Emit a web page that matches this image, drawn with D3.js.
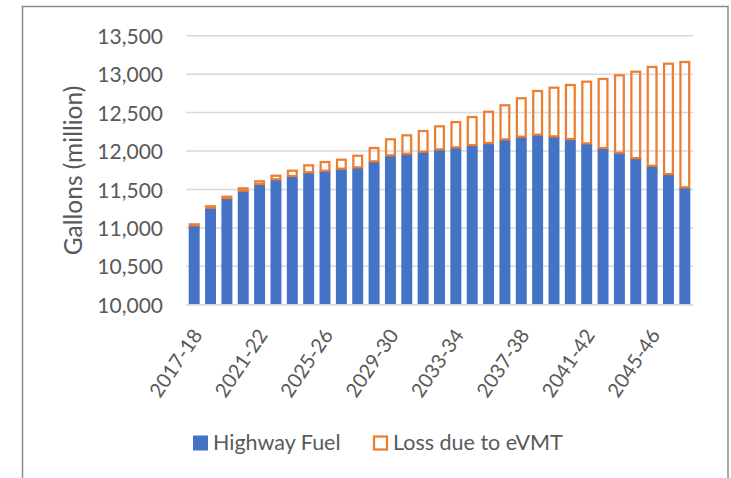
<!DOCTYPE html>
<html>
<head>
<meta charset="utf-8">
<script src="https://cdn.jsdelivr.net/npm/d3@7"></script>
<style>
  body { margin: 0; background: #fff; }
  svg text { font-family: Lato, "Open Sans", sans-serif; fill: #595959; }
</style>
</head>
<body>
<svg id="svg" width="731" height="478"></svg>
<script>
// Data =============================================================
var years = ["2017-18", "2018-19", "2019-20", "2020-21", "2021-22", "2022-23", "2023-24",
  "2024-25", "2025-26", "2026-27", "2027-28", "2028-29", "2029-30", "2030-31", "2031-32",
  "2032-33", "2033-34", "2034-35", "2035-36", "2036-37", "2037-38", "2038-39", "2039-40",
  "2040-41", "2041-42", "2042-43", "2043-44", "2044-45", "2045-46", "2046-47", "2047-48"];

// gallons (million)
var highwayFuel = [11034, 11263, 11389, 11484, 11571, 11632, 11675, 11723, 11744, 11770,
  11788, 11866, 11944, 11965, 11991, 12022, 12048, 12078, 12104, 12152, 12186, 12212,
  12191, 12156, 12100, 12039, 11978, 11909, 11809, 11701, 11528];

var lossEVMT = [13, 18, 17, 31, 35, 47, 69, 91, 113, 117, 151, 173, 208, 239, 269, 299,
  329, 364, 407, 443, 500, 569, 633, 703, 802, 898, 1007, 1123, 1284, 1435, 1630];

var yTicks = [10000, 10500, 11000, 11500, 12000, 12500, 13000, 13500];
var xTickLabels = ["2017-18", "2021-22", "2025-26", "2029-30", "2033-34", "2037-38", "2041-42", "2045-46"];
var seriesNames = ["Highway Fuel", "Loss due to eVMT"];

// Setup =============================================================
var svg = d3.select("#svg");
var blue = "#4472C4";
var orange = "#ED7D31";

// chart border
svg.append("rect")
  .attr("x", 22.5).attr("y", 6.5)
  .attr("width", 705.5).attr("height", 490)
  .attr("fill", "none")
  .attr("stroke", "#8c8c8c")
  .attr("stroke-width", 1.5);

var xScale = d3.scaleBand()
  .domain(years)
  .range([186, 693])
  .paddingInner(0.33)
  .paddingOuter(0.165);

var yScale = d3.scaleLinear()
  .domain([10000, 13500])
  .range([304.8, 35.7]);

// gridlines
svg.append("g").selectAll("line")
  .data(yTicks)
  .enter().append("line")
  .attr("x1", 186).attr("x2", 693)
  .attr("y1", function(d) { return yScale(d); })
  .attr("y2", function(d) { return yScale(d); })
  .attr("stroke", "#d9d9d9")
  .attr("stroke-width", 1.5);

// y axis labels
var yAxis = d3.axisLeft(yScale)
  .tickValues(yTicks)
  .tickSize(0)
  .tickPadding(0)
  .tickFormat(d3.format(","));

svg.append("g")
  .attr("transform", "translate(163,0)")
  .call(yAxis)
  .call(function(g) { g.select(".domain").remove(); })
  .selectAll("text")
  .attr("font-size", 21)
  .attr("font-family", null)
  .attr("dy", "0.36em");

// bars
var rows = years.map(function(y, i) {
  return { year: y, fuel: highwayFuel[i], loss: lossEVMT[i] };
});

svg.append("g").selectAll("rect")
  .data(rows)
  .enter().append("rect")
  .attr("x", function(d) { return xScale(d.year); })
  .attr("width", xScale.bandwidth())
  .attr("y", function(d) { return yScale(d.fuel); })
  .attr("height", function(d) { return yScale(10000) - yScale(d.fuel); })
  .attr("fill", blue);

svg.append("g").selectAll("rect")
  .data(rows)
  .enter().append("rect")
  .attr("x", function(d) { return xScale(d.year) + 1.1; })
  .attr("width", xScale.bandwidth() - 2.2)
  .attr("y", function(d) { return yScale(d.fuel + d.loss); })
  .attr("height", function(d) { return yScale(d.fuel) - yScale(d.fuel + d.loss); })
  .attr("fill", "none")
  .attr("stroke", orange)
  .attr("stroke-width", 2.25);

// x axis line
svg.append("line")
  .attr("x1", 186).attr("x2", 693)
  .attr("y1", yScale(10000)).attr("y2", yScale(10000))
  .attr("stroke", "#d9d9d9")
  .attr("stroke-width", 1.5);

// x labels, rotated
svg.append("g").selectAll("text")
  .data(xTickLabels)
  .enter().append("text")
  .attr("transform", function(d) {
    var cx = xScale(d) + xScale.bandwidth() / 2 + 3;
    return "translate(" + cx + ",331) rotate(-56)";
  })
  .attr("text-anchor", "end")
  .attr("dy", "0.36em")
  .attr("font-size", 20)
  .text(function(d) { return d; });

// y axis title
svg.append("text")
  .attr("transform", "translate(82,170.5) rotate(-90)")
  .attr("text-anchor", "middle")
  .attr("font-size", 24.5)
  .text("Gallons (million)");

// Legend =============================================================
var legend = svg.append("g");
var legendX = [193, 373];

legend.append("rect")
  .attr("x", legendX[0]).attr("y", 435.5)
  .attr("width", 15).attr("height", 15)
  .attr("fill", blue);

legend.append("rect")
  .attr("x", legendX[1] + 1).attr("y", 436.5)
  .attr("width", 13).attr("height", 13)
  .attr("fill", "none")
  .attr("stroke", orange)
  .attr("stroke-width", 2.25);

legend.selectAll("text")
  .data(seriesNames)
  .enter().append("text")
  .attr("x", function(d, i) { return legendX[i] + 20; })
  .attr("y", 450)
  .attr("font-size", 21.5)
  .text(function(d) { return d; });
</script>
</body>
</html>
